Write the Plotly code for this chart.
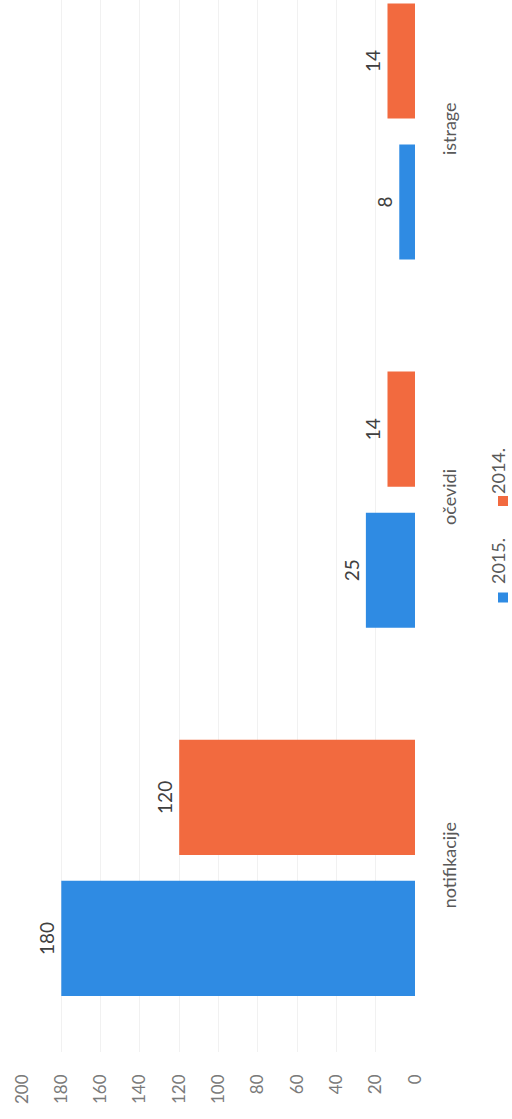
import plotly.graph_objects as go

categories = ["notifikacije", "očevidi", "istrage"]
values_2015 = [180, 25, 8]
values_2014 = [120, 14, 14]
series_names = ["2015.", "2014."]
x_ticks = [0, 20, 40, 60, 80, 100, 120, 140, 160, 180, 200]

BLUE = "#2F8BE3"
ORANGE = "#F26A3F"
FONT = "Lato, 'Open Sans', sans-serif"

W, H = 512, 1119
ML, MR, MT, MB = 22, 97, 0, 67

def px_to_paper_x(px):
    return (px - ML) / (W - ML - MR)

def px_to_paper_y(py):
    return (H - MB - py) / (H - MT - MB)

fig = go.Figure()
for name, vals, col in [(series_names[0], values_2015, BLUE), (series_names[1], values_2014, ORANGE)]:
    fig.add_trace(go.Bar(
        y=categories, x=vals, orientation="h", name=name,
        marker=dict(color=col, line=dict(width=0)),
        text=[str(v) for v in vals], textposition="outside", textangle=-90,
        textfont=dict(family=FONT, size=19, color="#404040"),
        cliponaxis=False,
    ))

fig.update_layout(
    width=W, height=H,
    margin=dict(l=ML, r=MR, t=MT, b=MB, autoexpand=False),
    paper_bgcolor="white", plot_bgcolor="white",
    barmode="group", bargap=0.234, bargroupgap=0.184,
    showlegend=False,
    font=dict(family=FONT),
    xaxis=dict(
        range=[200, 0], tickvals=x_ticks, ticktext=[str(t) for t in x_ticks],
        tickangle=-90, tickfont=dict(family=FONT, size=17, color="#7a7a7a"),
        showgrid=True, gridcolor="#f1f1f1", gridwidth=1,
        zeroline=False, showline=False, ticks="",
        ticklabelstandoff=18, automargin=False,
    ),
    yaxis=dict(
        categoryorder="array", categoryarray=categories,
        range=[-0.5, 2.357], side="right",
        tickangle=-90, tickfont=dict(family=FONT, size=18, color="#595959"),
        showgrid=False, zeroline=False, showline=False, ticks="",
        ticklabelstandoff=22, automargin=False,
    ),
)

# rotated legend built from shapes (colour squares) and annotations (labels)
legend_items = [(series_names[0], BLUE, 597.5, 561), (series_names[1], ORANGE, 501, 471)]
for name, col, sq_y, txt_y in legend_items:
    fig.add_shape(type="rect", xref="paper", yref="paper", layer="above",
                  x0=px_to_paper_x(498), x1=px_to_paper_x(508),
                  y0=px_to_paper_y(sq_y + 5), y1=px_to_paper_y(sq_y - 5),
                  fillcolor=col, line=dict(width=0), opacity=1)
    fig.add_annotation(xref="paper", yref="paper",
                       x=px_to_paper_x(511), y=px_to_paper_y(txt_y),
                       text=name, showarrow=False, textangle=-90,
                       font=dict(family=FONT, size=18, color="#595959"))

fig.write_html("out.html", config={"displayModeBar": False},
               post_script="document.body.style.margin='0px';")
